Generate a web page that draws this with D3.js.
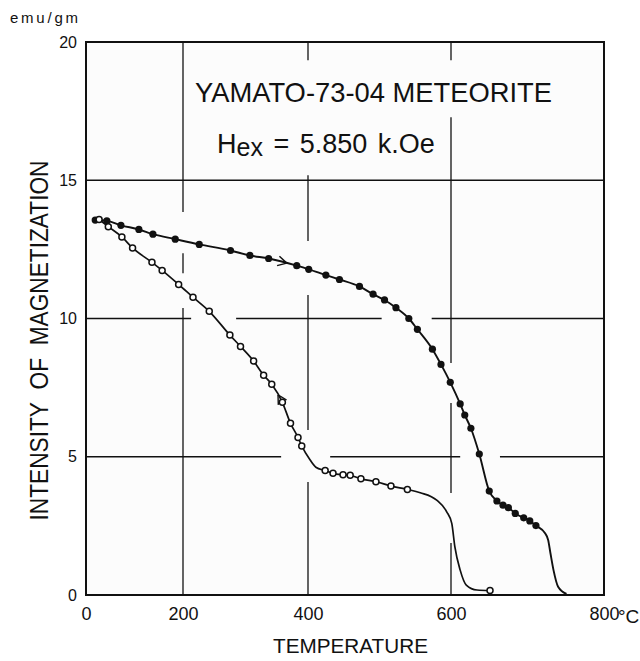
<!DOCTYPE html>
<html>
<head>
<meta charset="utf-8">
<script src="https://cdn.jsdelivr.net/npm/d3@7"></script>
<style>
  html, body { margin: 0; padding: 0; background: #ffffff; }
  svg { display: block; font-family: "Liberation Sans", Arial, sans-serif; }
</style>
</head>
<body>
<svg id="chart" width="640" height="661"></svg>
<script>
// ---- Data ----
// Heating curve (filled circles): temperature (°C) and magnetization (emu/gm)
const heatT = [19, 43, 72, 109, 138, 184, 226, 276, 307, 337, 382, 401, 425, 444, 472, 491, 507, 523, 541, 553, 574, 586, 599, 612, 618, 626, 637, 650, 660, 668, 675, 684, 695, 703, 711];
const heatM = [13.56, 13.53, 13.37, 13.22, 13.05, 12.87, 12.68, 12.46, 12.28, 12.17, 11.91, 11.78, 11.57, 11.41, 11.16, 10.88, 10.67, 10.39, 10.00, 9.61, 8.89, 8.34, 7.69, 6.91, 6.51, 6.03, 5.10, 3.76, 3.40, 3.25, 3.16, 2.95, 2.79, 2.68, 2.51];
// Heating curve continuation without markers
const heatTailT = [723, 727, 730, 734, 740, 751];
const heatTailM = [2.23, 1.99, 1.51, 0.90, 0.30, 0.04];

// Cooling curve (open circles)
const coolT = [27, 46, 74, 96, 136, 157, 191, 216, 242, 275, 292, 313, 329, 342, 359, 372, 384, 390, 424, 435, 449, 459, 474, 495, 516, 539, 651];
const coolM = [13.58, 13.32, 12.95, 12.55, 12.03, 11.74, 11.23, 10.77, 10.26, 9.40, 8.99, 8.46, 7.95, 7.62, 6.97, 6.21, 5.70, 5.39, 4.50, 4.40, 4.35, 4.33, 4.20, 4.10, 3.94, 3.82, 0.16];
// Cooling curve points without markers
const coolCurveT = [403, 411, 557, 580, 594, 601, 605, 612, 620, 634];
const coolCurveM = [4.88, 4.62, 3.70, 3.43, 3.01, 2.59, 1.75, 0.90, 0.36, 0.18];

// Axis ticks
const xTicks = [0, 200, 400, 600, 800];
const yTicks = [0, 5, 10, 15, 20];

// Grid lines (value, visible stretches in data units)
const hGridValues = [15, 10, 5];
const hGridSegs = [[[0, 800]], [[0, 213], [285, 503], [573, 800]], [[0, 357], [431, 612], [664, 800]]];
const vGridValues = [200, 400, 600];
const vGridSegs = [[[20, 13.85], [12.36, 11.64], [10.38, 0]], [[20, 19.34], [15.18, 12.8], [10.85, 5.97], [4.09, 0]], [[20, 19.34], [17.28, 8.39], [6.94, 3.69], [1.88, 0]]];

// Texts
const titleText = "YAMATO-73-04 METEORITE";
const fieldMain = "H", fieldSub = "ex", fieldRest = " = 5.850 k.Oe";
const yTitle = "INTENSITY\u00a0\u00a0OF\u00a0\u00a0MAGNETIZATION";
const xTitle = "TEMPERATURE";
const yUnit = "emu/gm";
const xUnit = "°C";

// Arrow markers: temperature position on each curve and direction
const heatArrowT = 366, coolArrowT = 352;

// ---- Drawing ----
const svg = d3.select("#chart");

// x axis of the original drawing is not uniformly spaced: piecewise linear scale
const x = d3.scaleLinear().domain(xTicks).range([86, 183, 308, 451, 604]);
const y = d3.scaleLinear().domain([0, 20]).range([595, 42]);

// plot background
svg.append("rect")
  .attr("x", x(0)).attr("y", y(20))
  .attr("width", x(800) - x(0)).attr("height", y(0) - y(20))
  .attr("fill", "#fcfcfc");

// grid lines
const grid = svg.append("g").attr("stroke", "#111").attr("stroke-width", 1.3);
hGridValues.forEach((v, i) => {
  hGridSegs[i].forEach(s => {
    grid.append("line")
      .attr("x1", x(s[0])).attr("x2", x(s[1]))
      .attr("y1", y(v)).attr("y2", y(v));
  });
});
vGridValues.forEach((v, i) => {
  vGridSegs[i].forEach(s => {
    grid.append("line")
      .attr("x1", x(v)).attr("x2", x(v))
      .attr("y1", y(s[0])).attr("y2", y(s[1]));
  });
});

// frame
svg.append("rect")
  .attr("x", x(0)).attr("y", y(20))
  .attr("width", x(800) - x(0)).attr("height", y(0) - y(20))
  .attr("fill", "none").attr("stroke", "#111").attr("stroke-width", 2);

// axes (labels only)
const xAxis = d3.axisBottom(x).tickValues(xTicks).tickSize(0).tickPadding(12).tickFormat(d3.format("d"));
const gx = svg.append("g").attr("transform", `translate(0,${y(0)})`).call(xAxis);
gx.select(".domain").remove();
gx.selectAll("text").attr("font-size", 18).attr("fill", "#111")
  .attr("font-family", "Liberation Sans, Arial, sans-serif");

const yAxis = d3.axisLeft(y).tickValues(yTicks).tickSize(0).tickPadding(9).tickFormat(d3.format("d"));
const gy = svg.append("g").attr("transform", `translate(${x(0)},0)`).call(yAxis);
gy.select(".domain").remove();
gy.selectAll("text").attr("font-size", 16).attr("fill", "#111")
  .attr("font-family", "Liberation Sans, Arial, sans-serif");

// unit labels
svg.append("text").attr("x", 10).attr("y", 23).attr("font-size", 15)
  .attr("textLength", 68).attr("lengthAdjust", "spacing")
  .attr("fill", "#111").text(yUnit);
svg.append("text").attr("x", x(800) + 14).attr("y", y(0) + 28).attr("font-size", 19)
  .attr("fill", "#111").text(xUnit);

// axis titles
svg.append("text")
  .attr("transform", `translate(48,${(y(20) + y(0)) / 2 + 22}) rotate(-90)`)
  .attr("text-anchor", "middle").attr("font-size", 25)
  .attr("textLength", 360).attr("lengthAdjust", "spacingAndGlyphs")
  .attr("fill", "#111").text(yTitle);
svg.append("text")
  .attr("x", (x(400) + x(600)) / 2 - 29).attr("y", 653)
  .attr("text-anchor", "middle").attr("font-size", 21)
  .attr("textLength", 155).attr("lengthAdjust", "spacingAndGlyphs")
  .attr("fill", "#111").text(xTitle);

// in-plot title texts
svg.append("text").attr("x", 195).attr("y", 102).attr("font-size", 28)
  .attr("textLength", 357).attr("lengthAdjust", "spacingAndGlyphs")
  .attr("fill", "#111").text(titleText);
const ft = svg.append("text").attr("x", 217).attr("y", 153).attr("font-size", 27)
  .attr("fill", "#111").attr("word-spacing", 3);
ft.append("tspan").text(fieldMain);
ft.append("tspan").attr("dy", 3).attr("font-size", 25).text(fieldSub);
ft.append("tspan").attr("dy", -3).text(fieldRest);

// curves
const line = d3.line().x(d => x(d[0])).y(d => y(d[1])).curve(d3.curveMonotoneX);
const heatPts = heatT.map((t, i) => [t, heatM[i]])
  .concat(heatTailT.map((t, i) => [t, heatTailM[i]]))
  .sort((a, b) => a[0] - b[0]);
const coolPts = coolT.map((t, i) => [t, coolM[i]])
  .concat(coolCurveT.map((t, i) => [t, coolCurveM[i]]))
  .sort((a, b) => a[0] - b[0]);

svg.append("path").datum(heatPts).attr("d", line)
  .attr("fill", "none").attr("stroke", "#111").attr("stroke-width", 1.9);
svg.append("path").datum(coolPts).attr("d", line)
  .attr("fill", "none").attr("stroke", "#111").attr("stroke-width", 1.7);

// direction arrows
function drawArrow(pts, t, dir) {
  const interp = d3.scaleLinear().domain(pts.map(d => d[0])).range(pts.map(d => d[1]));
  const px = x(t), py = y(interp(t));
  const qx = x(t - dir * 6), qy = y(interp(t - dir * 6));
  const ang = Math.atan2(py - qy, px - qx);
  const len = 10, spread = 0.5;
  [ang + Math.PI - spread, ang + Math.PI + spread].forEach(a => {
    svg.append("line")
      .attr("x1", px).attr("y1", py)
      .attr("x2", px + len * Math.cos(a)).attr("y2", py + len * Math.sin(a))
      .attr("stroke", "#111").attr("stroke-width", 1.4);
  });
}
drawArrow(heatPts, heatArrowT, 1);
drawArrow(coolPts, coolArrowT, -1);

// markers
svg.append("g").selectAll("circle").data(heatT).join("circle")
  .attr("cx", (d) => x(d)).attr("cy", (d, i) => y(heatM[i]))
  .attr("r", 3.6).attr("fill", "#111");
svg.append("g").selectAll("circle").data(coolT).join("circle")
  .attr("cx", (d) => x(d)).attr("cy", (d, i) => y(coolM[i]))
  .attr("r", 3).attr("fill", "#fff").attr("stroke", "#111").attr("stroke-width", 1.5);
</script>
</body>
</html>
